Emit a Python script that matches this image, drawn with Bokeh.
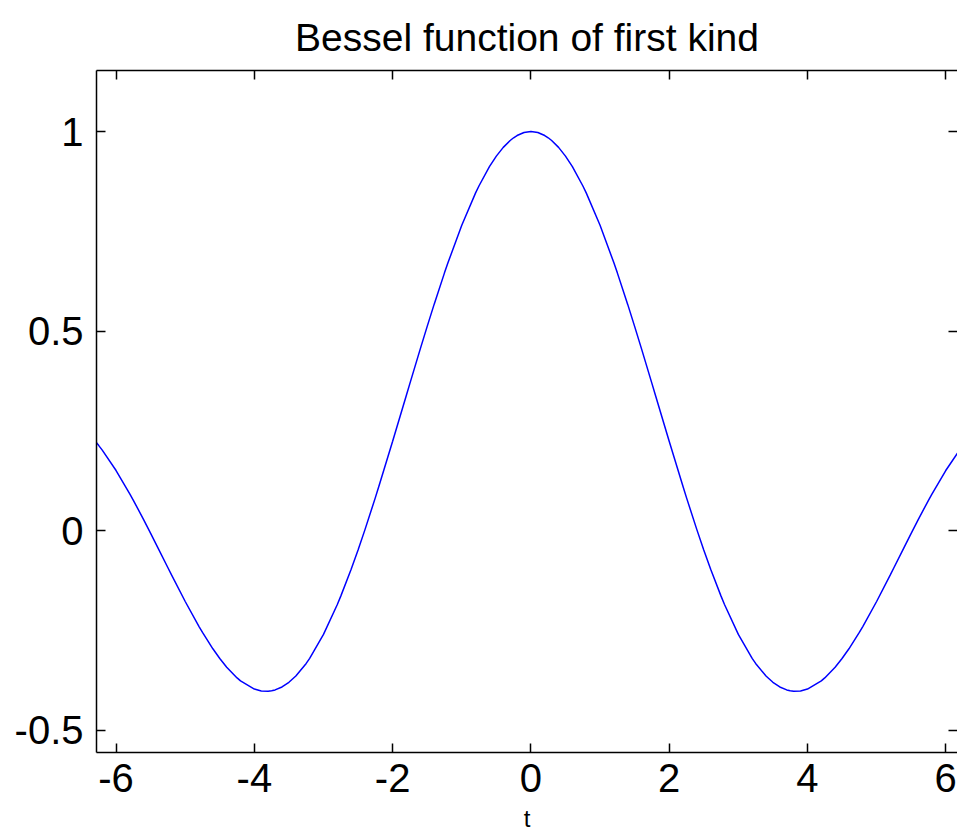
from bokeh.plotting import figure
from bokeh.models import LinearAxis, Range1d, FixedTicker, CustomJSTickFormatter
from bokeh.embed import file_html
from bokeh.resources import INLINE

# Sampled curve of J0(t) over [0, 2*pi]; the function is even, so the
# negative half is mirrored from the same samples.
t_half = [0.0, 0.1, 0.2, 0.25, 0.3, 0.4, 0.5, 0.6, 0.75, 0.8, 1.0, 1.2, 1.25,
          1.4, 1.5, 1.6, 1.75, 1.8, 2.0, 2.2, 2.25, 2.4, 2.5, 2.6, 2.75, 2.8,
          3.0, 3.2, 3.25, 3.4, 3.5, 3.6, 3.7, 3.75, 3.8, 3.9, 4.0, 4.2, 4.25,
          4.4, 4.5, 4.6, 4.75, 4.8, 5.0, 5.2, 5.25, 5.4, 5.5, 5.6, 5.75, 5.8,
          6.0, 6.2, 6.25, 6.2832]
j0_half = [1.0, 0.9975, 0.9900, 0.9844, 0.9776, 0.9604, 0.9385, 0.9120,
           0.8642, 0.8463, 0.7652, 0.6711, 0.6459, 0.5669, 0.5118, 0.4554,
           0.3690, 0.3400, 0.2239, 0.1104, 0.0827, 0.0025, -0.0484, -0.0968,
           -0.1641, -0.1850, -0.2601, -0.3202, -0.3328, -0.3643, -0.3801,
           -0.3918, -0.3992, -0.4014, -0.4026, -0.4018, -0.3971, -0.3766,
           -0.3691, -0.3423, -0.3205, -0.2961, -0.2551, -0.2404, -0.1776,
           -0.1103, -0.0931, -0.0412, -0.0068, 0.0270, 0.0760, 0.0917,
           0.1506, 0.2017, 0.2131, 0.2203]

t_vals = [-t for t in reversed(t_half[1:])] + t_half
j0_vals = list(reversed(j0_half[1:])) + j0_half

x_ticks = [-6, -4, -2, 0, 2, 4, 6]
y_ticks = [-0.5, 0, 0.5, 1]

FONT = "Liberation Sans"

p = figure(width=957, height=834, output_backend="svg", toolbar_location=None,
           x_range=Range1d(-6.2832, 6.17), y_range=Range1d(-0.556, 1.153),
           min_border_left=96, min_border_right=0, min_border_top=70,
           min_border_bottom=82, x_axis_location=None, y_axis_location=None)
p.outline_line_color = None
p.grid.visible = False
p.background_fill_color = "white"
p.border_fill_color = "white"

p.title.text = "Bessel function of first kind"
p.title.align = "center"
p.title.vertical_align = "top"
p.title.text_font = FONT
p.title.text_font_size = "39px"
p.title.text_font_style = "normal"
p.title.text_color = "black"
p.title.text_line_height = 0.3
p.title.standoff = 20

plain = CustomJSTickFormatter(code="return String(tick);")
blank = CustomJSTickFormatter(code="return '';")


def style_axis(ax, labels=True):
    ax.major_tick_in = 9
    ax.major_tick_out = 0
    ax.minor_tick_line_color = None
    ax.major_tick_line_color = "black"
    ax.major_tick_line_width = 1.5
    ax.axis_line_color = "black"
    ax.axis_line_width = 1.5
    ax.major_label_text_font = FONT
    ax.major_label_text_color = "black"
    if labels:
        ax.formatter = plain
        ax.major_label_text_font_size = "40px"
    else:
        ax.formatter = blank
        ax.major_label_text_font_size = "1px"
        ax.major_label_standoff = 0


bottom = LinearAxis(ticker=FixedTicker(ticks=x_ticks), axis_label="t")
style_axis(bottom)
bottom.major_label_standoff = 11
bottom.axis_label_text_font = FONT
bottom.axis_label_text_font_size = "24px"
bottom.axis_label_text_font_style = "normal"
bottom.axis_label_text_color = "black"
bottom.axis_label_standoff = 10
p.add_layout(bottom, "below")

left = LinearAxis(ticker=FixedTicker(ticks=y_ticks))
style_axis(left)
left.major_label_standoff = 13
p.add_layout(left, "left")

top = LinearAxis(ticker=FixedTicker(ticks=x_ticks))
style_axis(top, labels=False)
p.add_layout(top, "above")

right = LinearAxis(ticker=FixedTicker(ticks=y_ticks))
style_axis(right, labels=False)
right.axis_line_color = None
p.add_layout(right, "right")

p.line(t_vals, j0_vals, line_color="#0000ff", line_width=1.5)

open("out.html", "w").write(file_html(p, INLINE))
